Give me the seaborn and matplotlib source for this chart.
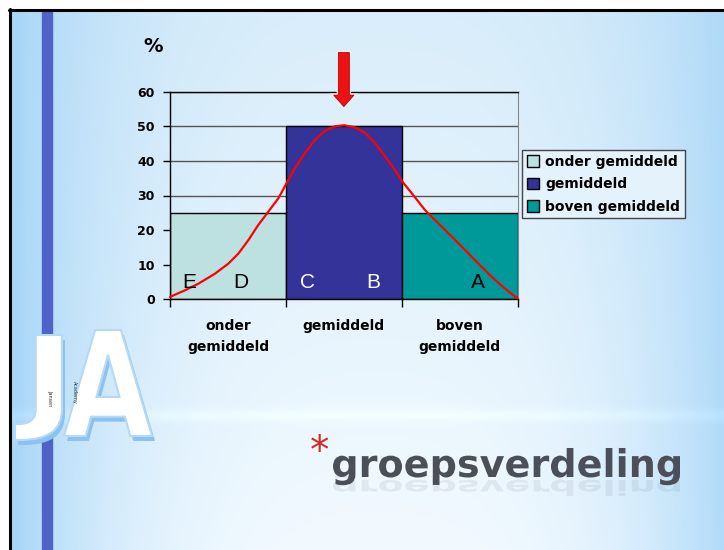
import numpy as np
import matplotlib
matplotlib.use('Agg')
import matplotlib.pyplot as plt
import matplotlib.patheffects as pe
import seaborn as sns
from matplotlib.textpath import TextPath
from matplotlib.patches import PathPatch, Rectangle
from matplotlib.font_manager import FontProperties
from matplotlib.transforms import Affine2D

# gegevens
categories = ['onder\ngemiddeld', 'gemiddeld', 'boven\ngemiddeld']
groups = ['onder gemiddeld', 'gemiddeld', 'boven gemiddeld']
percentages = [25, 50, 25]
bar_colors = ['#bde0e0', '#333399', '#009999']
y_ticks = [0, 10, 20, 30, 40, 50, 60]

# normaalcurve
curve_x = [-0.500, -0.371, -0.256, -0.112, 0.003, 0.090, 0.176, 0.262, 0.348, 0.435,
           0.507, 0.578, 0.665, 0.751, 0.837, 0.924, 1.004, 1.096, 1.182, 1.269,
           1.355, 1.441, 1.505, 1.585, 1.700, 1.844, 1.988, 2.132, 2.275, 2.390, 2.500]
curve_y = [0.7, 2.6, 4.5, 7.4, 10.3, 13.2, 17.1, 21.5, 25.3, 29.2,
           33.6, 37.9, 42.3, 46.1, 48.7, 50.0, 50.3, 49.7, 48.1, 45.2,
           41.3, 37.4, 34.0, 30.7, 25.8, 21.0, 16.2, 11.3, 6.5, 3.1, 0.2]

letters = ['E', 'D', 'C', 'B', 'A']
letter_x = [-0.33, 0.11, 0.69, 1.25, 2.16]
letter_y = [5, 5, 5, 5, 5]
letter_colors = ['black', 'black', 'white', 'white', 'black']

arrow_x = 1
arrow_top = 71.3
arrow_tip = 55.7

sns.set_style('white')
plt.rcParams['font.family'] = ['DejaVu Sans']
plt.rcParams['text.color'] = 'black'
plt.rcParams['xtick.color'] = 'black'
plt.rcParams['ytick.color'] = 'black'

fig = plt.figure(figsize=(7.24, 5.5), dpi=100)

# achtergrond van de dia (pixelcoordinaten)
bg = fig.add_axes([0, 0, 1, 1], zorder=0)
H, W = 550, 724
yy, xx = np.mgrid[0:H, 0:W].astype(float)
u, v = xx / W, yy / H
edge = np.array([0.66, 0.84, 0.97])
top = np.array([0.85, 0.93, 0.98])
bottom = np.array([0.95, 0.98, 1.0])
centre = top * (1 - v[..., None]) + bottom * v[..., None]
w = np.clip(np.abs(u - 0.52) / 0.5, 0, 1) ** 3
img = centre * (1 - w[..., None]) + edge * w[..., None]
img = np.clip(img + 0.03 * np.exp(-((yy - 415) / 6) ** 2)[..., None], 0, 1)
bg.imshow(img, extent=(0, W, H, 0), aspect='auto', interpolation='bilinear')
bg.set_xlim(0, W)
bg.set_ylim(H, 0)
bg.axis('off')

bg.add_patch(Rectangle((0, 0), W, 8.5, color='white'))
bg.add_patch(Rectangle((0, 0), 8.5, H, color='white'))
bg.plot([9, W], [9.5, 9.5], color='black', lw=2.2)
bg.plot([9.8, 9.8], [9, H], color='black', lw=2.2)
bg.add_patch(Rectangle((42, 11), 10, H, color='#4f62c9'))


def fit_path(s, x0, y0, x1, y1):
    tp = TextPath((0, 0), s, size=100, prop=FontProperties(family='DejaVu Sans', weight='bold'))
    ext = tp.get_extents()
    tr = Affine2D().translate(-ext.x0, -ext.y0).scale((x1 - x0) / ext.width, -(y1 - y0) / ext.height).translate(x0, y1)
    return tr.transform_path(tp)


# JA logo
for s, box in [('J', (15, 335, 62, 440)), ('A', (64, 330, 152, 436))]:
    p = fit_path(s, *box)
    bg.add_patch(PathPatch(Affine2D().translate(3, 5).transform_path(p), fc='#8cc2ef', ec='none'))
    bg.add_patch(PathPatch(p, fc='white', ec='#b5d9f6', lw=1.5))
bg.text(50, 398, 'Jansen', rotation=270, fontsize=3.5, ha='center', va='center', color='#333333')
bg.text(74, 392, 'Academy', rotation=270, fontsize=3.5, ha='center', va='center', color='#333333')

# titel met spiegeling
fp = FontProperties(family='DejaVu Sans', weight='bold')
tp = TextPath((0, 0), 'groepsverdeling', size=100, prop=fp)
ext = tp.get_extents()
sc = 347 / ext.width
title = Affine2D().translate(-ext.x0, 0).scale(sc, -sc).translate(333, 477).transform_path(tp)
refl = Affine2D().translate(-ext.x0, 0).scale(sc, sc * 0.55).translate(333, 480).transform_path(tp)
bg.add_patch(PathPatch(refl, fc='#4b4f5a', ec='none', alpha=0.09))
bg.add_patch(PathPatch(title, fc='#4b4f5a', ec='none'))
bg.text(320, 452, '*', fontsize=28, color='#d42a1e', ha='center', va='center')
bg.text(153, 46, '%', fontsize=14, fontweight='bold', ha='center', va='center')

# grafiek
ax = fig.add_axes([170 / 724, 1 - 299.3 / 550, 347.7 / 724, 207.6 / 550], zorder=2)
ax.patch.set_alpha(0)
sns.barplot(x=categories, y=percentages, hue=groups, palette=bar_colors, dodge=False,
            width=1.0, saturation=1, edgecolor='black', linewidth=1, ax=ax)
ax.set_xlim(-0.5, 2.5)
ax.set_ylim(0, 60)
ax.set_yticks(y_ticks)
ax.set_yticklabels([str(t) for t in y_ticks], fontweight='bold')
ax.yaxis.grid(True, color='#555555', lw=1)
ax.set_axisbelow(True)
ax.set_xlabel('')
ax.set_ylabel('')

ax.set_xticks([-0.5, 0.5, 1.5, 2.5])
ax.set_xticklabels([])
ax.set_xticks([0, 1, 2], minor=True)
ax.set_xticklabels(categories, minor=True, fontweight='bold', linespacing=1.7)
ax.tick_params(axis='x', which='major', length=6, width=1, bottom=True, direction='out')
ax.tick_params(axis='x', which='minor', length=0, pad=14, labelsize=10, labelcolor='black')
ax.tick_params(axis='y', length=5, width=1, left=True, pad=6, labelsize=9, direction='out',
               labelcolor='black')

for side in ['left', 'bottom', 'top']:
    ax.spines[side].set_color('black')
    ax.spines[side].set_linewidth(1)
ax.spines['right'].set_color('#888888')

ax.plot(curve_x, curve_y, color='red', lw=1.6, zorder=4, clip_on=False,
        solid_joinstyle='round')

for l, x, y, c in zip(letters, letter_x, letter_y, letter_colors):
    ax.text(x, y, l, fontsize=15, color=c, ha='center', va='center', family='Liberation Sans', zorder=5)

ax.arrow(arrow_x, arrow_top, 0, arrow_tip - arrow_top, width=0.095, head_width=0.175,
         head_length=3.3, length_includes_head=True, fc='#ee1111', ec='#b80000', lw=0.6,
         clip_on=False, zorder=6,
         path_effects=[pe.withStroke(linewidth=2.5, foreground='#e6f2fb')])

handles, labels = ax.get_legend_handles_labels()
ax.legend(handles, labels, loc='upper left', bbox_to_anchor=(522 / 724, 1 - 150 / 550),
          bbox_transform=fig.transFigure, frameon=True, fancybox=False, edgecolor='#444444',
          facecolor='#e4f2fc', framealpha=1, prop=dict(weight='bold', size=10),
          handlelength=0.9, handleheight=0.9, handletextpad=0.4, labelspacing=0.6,
          borderpad=0.35, borderaxespad=0)

fig.savefig('out.png', dpi=100)
